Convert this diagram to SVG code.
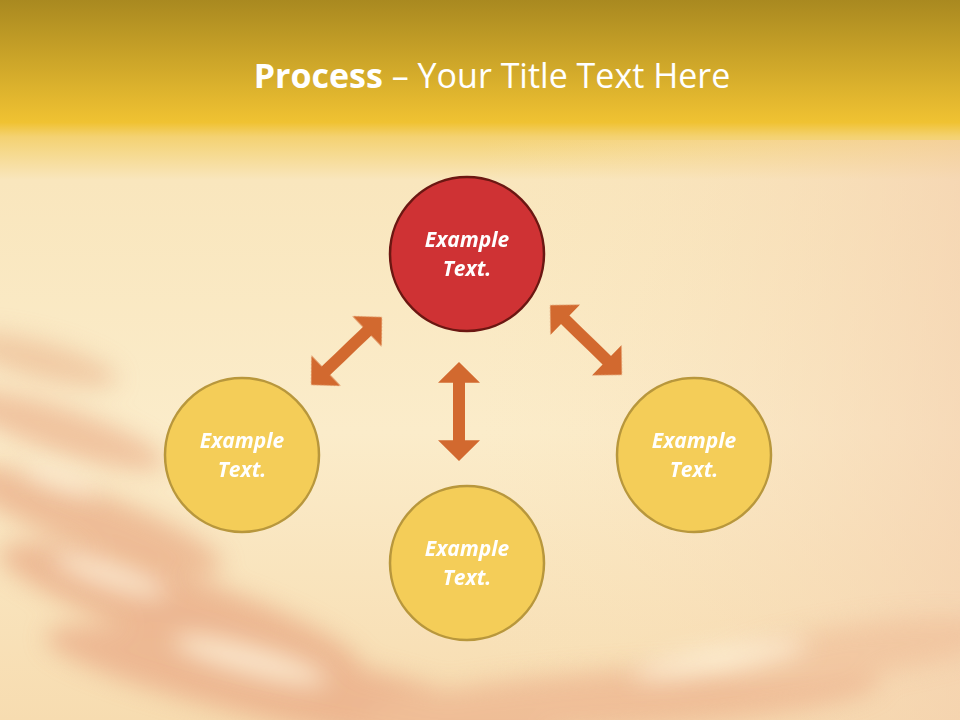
<svg xmlns="http://www.w3.org/2000/svg" width="960" height="720" viewBox="0 0 960 720">
<defs>
<style>
.title{font-family:"Open Sans","Liberation Sans",sans-serif;font-size:34px;fill:#ffffff}
.lbl{font-family:"Open Sans","Liberation Sans",sans-serif;font-size:21px;font-weight:bold;font-style:italic;fill:#ffffff;text-anchor:middle}
.red{fill:#cf3234;stroke:#6b1712;stroke-width:2.5}
.yel{fill:#f4cd58;stroke:#b8973c;stroke-width:2.5}
.arr{fill:#d2692f}
</style>
<linearGradient id="bg" x1="0" y1="0" x2="0" y2="1">
<stop offset="0" stop-color="#a98920"/>
<stop offset="0.17" stop-color="#f0c232"/>
<stop offset="0.19" stop-color="#f4d272"/>
<stop offset="0.25" stop-color="#f9e6bd"/>
<stop offset="0.6" stop-color="#fbecca"/>
<stop offset="1" stop-color="#f7dcb0"/>
</linearGradient>
<linearGradient id="pinkR" x1="0" y1="0" x2="1" y2="0">
<stop offset="0" stop-color="#fbe6bd" stop-opacity="0"/>
<stop offset="1" stop-color="#f4cfae" stop-opacity="0.9"/>
</linearGradient>
<filter id="blur" x="-20%" y="-50%" width="140%" height="200%"><feGaussianBlur stdDeviation="12"/></filter>
<polygon id="dbl" points="-50,0 -29,-21 -29,-6 29,-6 29,-21 50,0 29,21 29,6 -29,6 -29,21"/>
</defs>
<g id="background">
<rect width="960" height="720" fill="url(#bg)"/>
<rect x="480" y="140" width="480" height="580" fill="url(#pinkR)" opacity="0.7"/>
<g filter="url(#blur)" opacity="0.6">
<ellipse cx="40" cy="360" rx="80" ry="18" fill="#eab48c" transform="rotate(15 40 360)"/>
<ellipse cx="60" cy="430" rx="110" ry="22" fill="#e9a882" transform="rotate(18 60 430)"/>
<ellipse cx="90" cy="520" rx="140" ry="28" fill="#e6a07a" transform="rotate(20 90 520)"/>
<ellipse cx="180" cy="610" rx="190" ry="34" fill="#e59c78" transform="rotate(18 180 610)"/>
<ellipse cx="300" cy="690" rx="260" ry="36" fill="#e69e7c" transform="rotate(12 300 690)"/>
<ellipse cx="620" cy="700" rx="260" ry="30" fill="#eaaa86" transform="rotate(-4 620 700)"/>
<ellipse cx="860" cy="650" rx="140" ry="26" fill="#efbc96" transform="rotate(-8 860 650)"/>
</g>
<g filter="url(#blur)" opacity="0.75">
<ellipse cx="110" cy="575" rx="60" ry="12" fill="#fff6df" transform="rotate(18 110 575)"/>
<ellipse cx="250" cy="660" rx="80" ry="14" fill="#fff6df" transform="rotate(15 250 660)"/>
<ellipse cx="60" cy="480" rx="40" ry="9" fill="#fff6df" transform="rotate(18 60 480)"/>
<ellipse cx="720" cy="660" rx="90" ry="12" fill="#fff6df" transform="rotate(-10 720 660)"/>
</g>
</g>
<text class="title" x="492" y="88" text-anchor="middle"><tspan font-weight="bold">Process</tspan> – Your Title Text Here</text>
<g id="connectors">
<use href="#dbl" class="arr" transform="translate(346.5 351) rotate(-43.8) scale(0.98 1)"/>
<use href="#dbl" class="arr" transform="translate(586 340) rotate(44.2)"/>
<use href="#dbl" class="arr" transform="translate(459 411.5) rotate(90) scale(0.99 1)"/>
</g>
<g id="node-top">
<circle class="red" cx="467" cy="254" r="77"/>
<text class="lbl" x="467" y="247">Example</text>
<text class="lbl" x="467" y="276">Text.</text>
</g>
<g id="node-left">
<circle class="yel" cx="242" cy="455" r="77"/>
<text class="lbl" x="242" y="448">Example</text>
<text class="lbl" x="242" y="477">Text.</text>
</g>
<g id="node-bottom">
<circle class="yel" cx="467" cy="563" r="77"/>
<text class="lbl" x="467" y="556">Example</text>
<text class="lbl" x="467" y="585">Text.</text>
</g>
<g id="node-right">
<circle class="yel" cx="694" cy="455" r="77"/>
<text class="lbl" x="694" y="448">Example</text>
<text class="lbl" x="694" y="477">Text.</text>
</g>
</svg>
